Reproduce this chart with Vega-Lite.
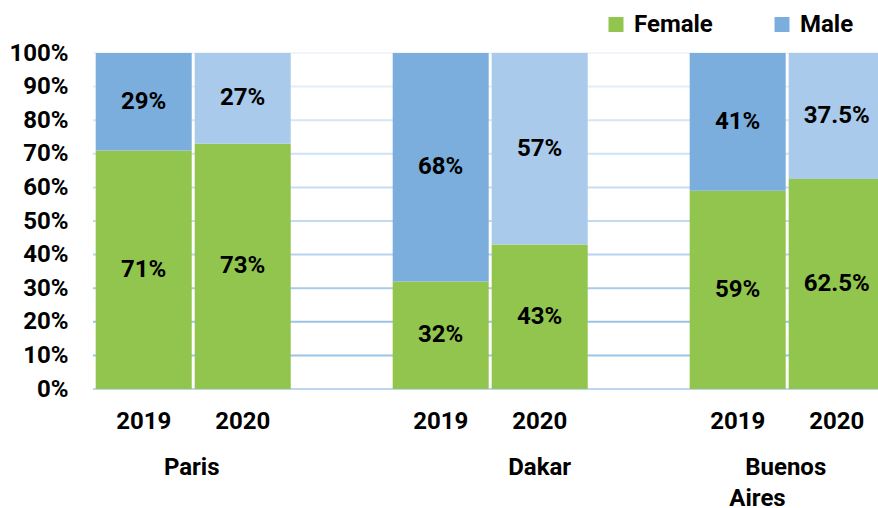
{
  "$schema": "https://vega.github.io/schema/vega-lite/v6.json",
  "autosize": "none",
  "width": 785,
  "height": 336,
  "padding": {"left": 93, "top": 53, "right": 0, "bottom": 119},
  "config": {
    "font": "Roboto",
    "view": {"stroke": null},
    "axis": {"labelFont": "Roboto", "labelFontWeight": "bold", "labelFontSize": 24, "labelColor": "#000000", "domain": false, "ticks": false, "tickSize": 0, "title": null, "labelOverlap": false, "grid": false},
    "axisY": {"values": [0, 0.1, 0.2, 0.3, 0.4, 0.5, 0.6, 0.7, 0.8, 0.9, 1], "format": ".0%", "labelPadding": 25, "labelBaseline": "middle", "labelOverlap": false},
    "axisX": {"labelAngle": 0, "labelExpr": "indexof(datum.value, 'gap') >= 0 ? '' : slice(datum.value, -4)", "labelBaseline": "alphabetic", "labelPadding": 39.5}
  },
  "datasets": {
    "shares": [
      {"slot": "Paris 2019", "city": "Paris", "year": "2019", "sex": "Female", "share": 0.71},
      {"slot": "Paris 2019", "city": "Paris", "year": "2019", "sex": "Male", "share": 0.29},
      {"slot": "Paris 2020", "city": "Paris", "year": "2020", "sex": "Female", "share": 0.73},
      {"slot": "Paris 2020", "city": "Paris", "year": "2020", "sex": "Male", "share": 0.27},
      {"slot": "Dakar 2019", "city": "Dakar", "year": "2019", "sex": "Female", "share": 0.32},
      {"slot": "Dakar 2019", "city": "Dakar", "year": "2019", "sex": "Male", "share": 0.68},
      {"slot": "Dakar 2020", "city": "Dakar", "year": "2020", "sex": "Female", "share": 0.43},
      {"slot": "Dakar 2020", "city": "Dakar", "year": "2020", "sex": "Male", "share": 0.57},
      {"slot": "Buenos Aires 2019", "city": "Buenos Aires", "year": "2019", "sex": "Female", "share": 0.59},
      {"slot": "Buenos Aires 2019", "city": "Buenos Aires", "year": "2019", "sex": "Male", "share": 0.41},
      {"slot": "Buenos Aires 2020", "city": "Buenos Aires", "year": "2020", "sex": "Female", "share": 0.625},
      {"slot": "Buenos Aires 2020", "city": "Buenos Aires", "year": "2020", "sex": "Male", "share": 0.375}
    ],
    "grid": [
      {"level": 0}, {"level": 0.1}, {"level": 0.2}, {"level": 0.3}, {"level": 0.4}, {"level": 0.5},
      {"level": 0.6}, {"level": 0.7}, {"level": 0.8}, {"level": 0.9}, {"level": 1}
    ]
  },
  "layer": [
    {
      "data": {"name": "grid"},
      "mark": {"type": "rule", "strokeWidth": 2},
      "encoding": {
        "y": {"field": "level", "type": "quantitative", "scale": {"domain": [0, 1], "nice": false}},
        "stroke": {
          "field": "level", "type": "ordinal", "legend": null,
          "scale": {
            "domain": [0, 0.1, 0.2, 0.3, 0.4, 0.5, 0.6, 0.7, 0.8, 0.9, 1],
            "range": ["#BDD7EE", "#9DC3E6", "#9DC3E6", "#AACBEA", "#B7D3ED", "#C3DBF0", "#C9DEF2", "#CFE2F3", "#D6E7F5", "#E3EEF8", "#EFF5FB"]
          }
        }
      }
    },
    {
      "data": {"name": "shares"},
      "mark": {"type": "bar"},
      "encoding": {
        "x": {
          "field": "slot", "type": "nominal",
          "scale": {"domain": ["Paris 2019", "Paris 2020", "gap1", "Dakar 2019", "Dakar 2020", "gap2", "Buenos Aires 2019", "Buenos Aires 2020"], "range": [2.7, 791.7], "paddingInner": 0.03, "paddingOuter": 0}
        },
        "y": {"field": "share", "type": "quantitative", "stack": "zero"},
        "order": {"field": "sex", "sort": "ascending"},
        "color": {
          "field": "sex", "type": "nominal",
          "scale": {"domain": ["Female", "Male"], "range": ["#92C54D", "#7BAEDD"]},
          "condition": {"test": "datum.sex == 'Male' && datum.year == '2020'", "value": "#A9CAEB"},
          "legend": {
            "orient": "none", "legendX": 511, "legendY": -40.5, "direction": "horizontal",
            "title": null, "padding": 0,
            "symbolType": "square", "symbolSize": 225, "symbolStrokeWidth": 0, "symbolOpacity": 1,
            "labelFont": "Roboto", "labelFontSize": 24, "labelFontWeight": "bold", "labelColor": "#000000",
            "labelOffset": 6, "columnPadding": 57
          }
        }
      }
    },
    {
      "data": {"name": "shares"},
      "mark": {"type": "text", "font": "Roboto", "fontSize": 24, "fontWeight": "bold", "color": "#000000", "baseline": "middle", "align": "center"},
      "encoding": {
        "x": {"field": "slot", "type": "nominal"},
        "y": {"field": "share", "type": "quantitative", "stack": "zero", "bandPosition": 0.5},
        "order": {"field": "sex", "sort": "ascending"},
        "text": {"field": "share", "type": "quantitative", "format": ".1~%"}
      }
    },
    {
      "data": {"values": [{"slot": "Paris 2019", "label": "Paris"}, {"slot": "Buenos Aires 2019", "label": "Buenos"}]},
      "mark": {"type": "text", "font": "Roboto", "fontSize": 24, "fontWeight": "bold", "color": "#000000", "baseline": "alphabetic", "align": "center", "y": {"expr": "height + 85.5"}},
      "encoding": {
        "x": {"field": "slot", "type": "nominal", "bandPosition": 1},
        "text": {"field": "label"}
      }
    },
    {
      "data": {"values": [{"slot": "Dakar 2020", "label": "Dakar"}]},
      "mark": {"type": "text", "font": "Roboto", "fontSize": 24, "fontWeight": "bold", "color": "#000000", "baseline": "alphabetic", "align": "center", "y": {"expr": "height + 85.5"}},
      "encoding": {
        "x": {"field": "slot", "type": "nominal", "bandPosition": 0.5},
        "text": {"field": "label"}
      }
    },
    {
      "data": {"values": [{"slot": "Buenos Aires 2019", "label": "Aires"}]},
      "mark": {"type": "text", "font": "Roboto", "fontSize": 24, "fontWeight": "bold", "color": "#000000", "baseline": "alphabetic", "align": "right", "y": {"expr": "height + 116.5"}},
      "encoding": {
        "x": {"field": "slot", "type": "nominal", "bandPosition": 1},
        "text": {"field": "label"}
      }
    }
  ]
}
